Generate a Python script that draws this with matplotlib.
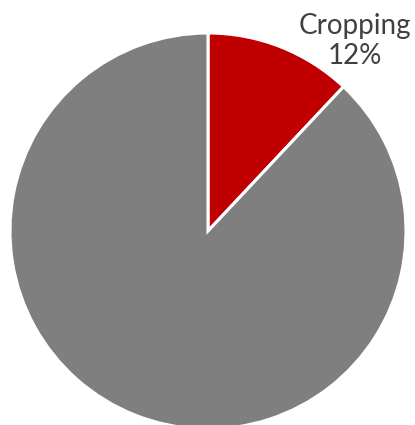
import matplotlib.pyplot as plt

labels = ['Cropping', 'Other']
shares = [12, 88]
colors = ['#C00000', '#7F7F7F']

fig = plt.figure(figsize=(4.15, 4.25), dpi=100)
ax = fig.add_axes([0, 0, 1, 1])

# pie drawn in pixel coordinates, starting at 12 o'clock going clockwise
ax.pie(shares, colors=colors, startangle=90, counterclock=False,
       center=(208, 194), radius=198, frame=True,
       wedgeprops=dict(edgecolor='white', linewidth=2.2))
ax.set_xlim(0, 415)
ax.set_ylim(0, 425)
ax.set_aspect('equal')
ax.axis('off')

ax.text(355, 384, f'{labels[0]}\n{shares[0]}%', ha='center', va='center',
        fontsize=20, color='#404040', family='Lato', linespacing=1.2)

fig.savefig('out.png', dpi=100)
